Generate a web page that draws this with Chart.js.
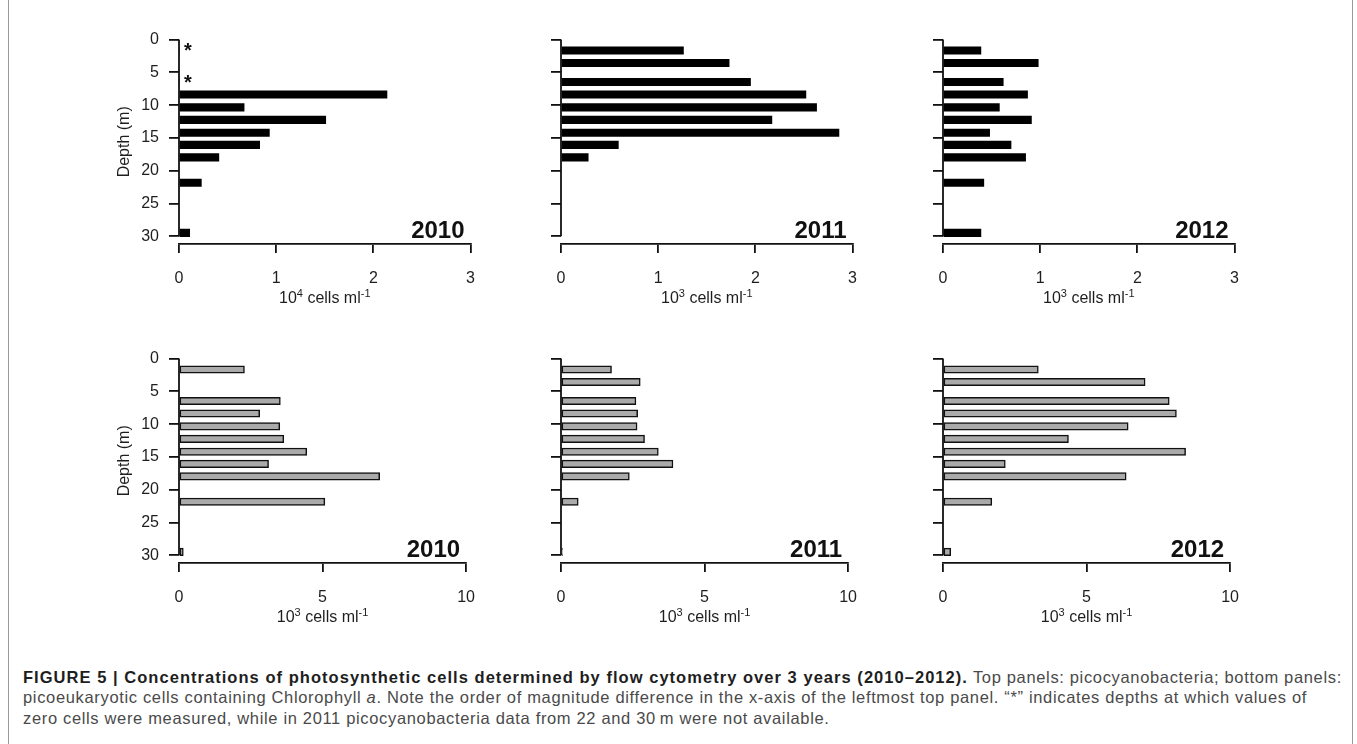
<!DOCTYPE html>
<html lang="en">
<head>
  <meta charset="UTF-8">
  <title>Figure 5 - flow cytometry</title>
  <script src="https://cdn.jsdelivr.net/npm/chart.js"></script>
  <style>
    html, body { margin: 0; padding: 0; background: #fff; }
    #figure { position: relative; width: 1357px; height: 744px; overflow: hidden; }
    #frame { position: absolute; left: 8px; top: 0; width: 1343px; height: 760px; border-left: 1px solid #9a9a9a; border-right: 1px solid #9a9a9a; }
    canvas { position: absolute; }
    #caption {
      position: absolute; left: 23px; top: 667px; white-space: nowrap;
      font-family: "Liberation Sans", Arial, sans-serif; font-size: 16.5px; line-height: 20.3px; color: #4a4a4a;
    }
    #caption span { display: inline-block; }
    #caption b { color: #1e1e1e; }
  </style>
</head>
<body>
<div id="figure">
  <div id="frame"></div>
  <canvas id="c1" width="391" height="294"></canvas>
  <canvas id="c2" width="391" height="294"></canvas>
  <canvas id="c3" width="391" height="294"></canvas>
  <canvas id="c4" width="391" height="294"></canvas>
  <canvas id="c5" width="391" height="294"></canvas>
  <canvas id="c6" width="391" height="294"></canvas>
  <div id="caption">
    <span id="cap1"><b id="capBold">FIGURE 5 | Concentrations of photosynthetic cells determined by flow cytometry over 3 years (2010–2012).</b> Top panels: picocyanobacteria; bottom panels:</span><br>
    <span id="cap2">picoeukaryotic cells containing Chlorophyll <i>a</i>. Note the order of magnitude difference in the x-axis of the leftmost top panel. “*” indicates depths at which values of</span><br>
    <span>zero cells were measured, while in 2011 picocyanobacteria data from 22 and 30&#8201;m were not available.</span>
  </div>
</div>

<script>
  // sampling depths (m) as placed on the plots
  const depths = [1.66, 3.57, 6.46, 8.37, 10.33, 12.24, 14.2, 16.05, 17.96, 21.83, 29.47];
  const depthTicks = [0, 5, 10, 15, 20, 25, 30];

  // picocyanobacteria (top row); 0 = measured zero (*), null = no data
  const cyano2010 = [0, null, 0, 2.14, 0.67, 1.51, 0.93, 0.83, 0.41, 0.23, 0.11];   // 10^4 cells/ml
  const cyano2011 = [1.26, 1.73, 1.95, 2.52, 2.63, 2.17, 2.86, 0.59, 0.28, null, null];
  const cyano2012 = [0.39, 0.98, 0.62, 0.87, 0.58, 0.91, 0.48, 0.70, 0.85, 0.42, 0.39];
  const cyanoTicks = [0, 1, 2, 3];

  // picoeukaryotes (bottom row), 10^3 cells/ml
  const euk2010 = [2.28, null, 3.53, 2.81, 3.51, 3.65, 4.45, 3.12, 6.99, 5.08, 0.15];
  const euk2011 = [1.76, 2.76, 2.61, 2.67, 2.65, 2.91, 3.39, 3.90, 2.38, 0.60, 0.05];
  const euk2012 = [3.32, 7.04, 7.88, 8.13, 6.45, 4.37, 8.45, 2.17, 6.38, 1.70, 0.27];
  const eukTicks = [0, 5, 10];

  const FONT = '"Liberation Sans", Arial, Helvetica, sans-serif';
  Chart.defaults.font.family = FONT;
  Chart.defaults.color = '#1e1e1e';

  const Y_MAX = 31.17;   // leaves the gap between the depth axis and the x axis

  // draws the R-like bits: short depth axis, stars, year label, x title with superscripts
  const extras = {
    id: 'extras',
    afterDraw(chart) {
      const o = chart.options.plugins.extras;
      const ctx = chart.ctx;
      const area = chart.chartArea;
      const x = chart.scales.x, y = chart.scales.y;
      ctx.save();
      ctx.strokeStyle = '#111';
      ctx.lineWidth = 1.8;
      ctx.beginPath();
      ctx.moveTo(area.left, y.getPixelForValue(0));
      ctx.lineTo(area.left, y.getPixelForValue(30));
      ctx.stroke();

      ctx.fillStyle = '#111';
      ctx.font = 'bold 20px ' + FONT;
      ctx.textAlign = 'center';
      ctx.textBaseline = 'alphabetic';
      o.values.forEach((v, i) => {
        if (v === 0) ctx.fillText('*', x.getPixelForValue(0) + 9, y.getPixelForValue(depths[i]) + 7);
      });

      ctx.font = 'bold 24px ' + FONT;
      ctx.textAlign = 'right';
      ctx.fillText(o.year, area.right - 6, area.bottom - 6);

      // x title: 10^n cells ml^-1
      const big = '16px ' + FONT, small = '11px ' + FONT;
      const parts = [['10', big, 0], [o.exp, small, 6], [' cells ml', big, 0], ['-1', small, 6]];
      let w = 0;
      parts.forEach(p => { ctx.font = p[1]; w += ctx.measureText(p[0]).width; });
      let tx = (area.left + area.right) / 2 - w / 2;
      const ty = area.bottom + 59;
      ctx.textAlign = 'left';
      ctx.fillStyle = '#1e1e1e';
      parts.forEach(p => {
        ctx.font = p[1];
        ctx.fillText(p[0], tx, ty - p[2]);
        tx += ctx.measureText(p[0]).width;
      });
      ctx.restore();
    }
  };

  function makePanel(id, left, top, values, year, exp, xTicks, fill, border, showDepth) {
    const canvas = document.getElementById(id);
    canvas.style.left = left + 'px';
    canvas.style.top = top + 'px';
    new Chart(canvas, {
      type: 'bar',
      data: {
        datasets: [{
          data: depths.map((d, i) => ({ x: values[i], y: d })),
          backgroundColor: fill,
          borderColor: '#111',
          borderWidth: border,
          borderSkipped: false,
          barThickness: 7.5
        }]
      },
      options: {
        indexAxis: 'y',
        responsive: false,
        animation: false,
        layout: { padding: { top: 12, right: 15, left: 0, bottom: 0 } },
        plugins: {
          legend: { display: false },
          tooltip: { enabled: false },
          extras: { values: values, year: year, exp: exp }
        },
        scales: {
          y: {
            type: 'linear',
            reverse: true,
            min: 0,
            max: Y_MAX,
            offset: false,
            afterBuildTicks: s => { s.ticks = depthTicks.map(v => ({ value: v })); },
            afterFit: s => { s.width = 79; },
            border: { display: false },
            grid: { offset: false, drawOnChartArea: false, drawTicks: true, tickLength: 10, color: '#111', lineWidth: 1.8 },
            ticks: {
              padding: 10,
              font: { size: 16 },
              color: '#1e1e1e',
              callback: v => showDepth ? String(v) : ''
            },
            title: {
              display: showDepth,
              text: 'Depth (m)',
              font: { size: 16 },
              color: '#1e1e1e',
              padding: { top: 15, bottom: 0 }
            }
          },
          x: {
            type: 'linear',
            min: 0,
            max: xTicks[xTicks.length - 1],
            afterBuildTicks: s => { s.ticks = xTicks.map(v => ({ value: v })); },
            afterFit: s => { s.height = 70; },
            border: { display: true, color: '#111', width: 1.8 },
            grid: { drawOnChartArea: false, drawTicks: true, tickLength: 9, color: '#111', lineWidth: 1.8 },
            ticks: { padding: 16, font: { size: 16 }, color: '#1e1e1e', maxRotation: 0 }
          }
        }
      },
      plugins: [extras]
    });
  }

  const cols = [179, 561, 943];
  const rows = [32, 351];

  makePanel('c1', cols[0] - 79, rows[0] - 12, cyano2010, '2010', '4', cyanoTicks, '#000', 0, true);
  makePanel('c2', cols[1] - 79, rows[0] - 12, cyano2011, '2011', '3', cyanoTicks, '#000', 0, false);
  makePanel('c3', cols[2] - 79, rows[0] - 12, cyano2012, '2012', '3', cyanoTicks, '#000', 0, false);
  makePanel('c4', cols[0] - 79, rows[1] - 12, euk2010, '2010', '3', eukTicks, '#aaaaaa', 1.5, true);
  makePanel('c5', cols[1] - 79, rows[1] - 12, euk2011, '2011', '3', eukTicks, '#aaaaaa', 1.5, false);
  makePanel('c6', cols[2] - 79, rows[1] - 12, euk2012, '2012', '3', eukTicks, '#aaaaaa', 1.5, false);

  // the caption in the figure is set a little wider than Liberation Sans:
  // spread the regular text to the second line's width, then the bold run to the first line's width
  const cap = document.getElementById('caption');
  const line1 = document.getElementById('cap1');
  const line2 = document.getElementById('cap2');
  const bold = document.getElementById('capBold');
  const s = (1284 - line2.getBoundingClientRect().width) / line2.textContent.length;
  cap.style.letterSpacing = s.toFixed(3) + 'px';
  const extra = (1319 - line1.getBoundingClientRect().width) / bold.textContent.length;
  bold.style.letterSpacing = (s + extra).toFixed(3) + 'px';
</script>
</body>
</html>
